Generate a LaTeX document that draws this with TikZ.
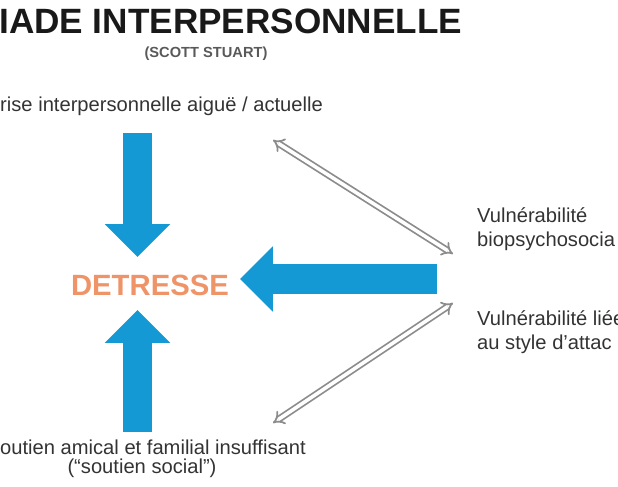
\documentclass[tikz,border=0pt]{standalone}
\usepackage{fontspec}
\setmainfont{Liberation Sans}
\usepackage{xcolor}
\usetikzlibrary{arrows.meta,positioning}

\definecolor{arrowblue}{HTML}{1499D4}
\definecolor{distressorange}{HTML}{EE9468}
\definecolor{linkgray}{HTML}{8C8C8C}
\definecolor{textgray}{HTML}{333333}

\begin{document}
\begin{tikzpicture}[x=0.03cm, y=-0.03cm,
    label/.style={text=textgray, font=\fontsize{17.2}{20.5}\selectfont, inner sep=0pt},
    bigarrow/.style={arrowblue, line width=25.5pt, -{Triangle[width=54pt, length=28pt]}},
    linkarrow/.style={draw=linkgray, double=white, double distance=3pt, line width=1.5pt, {Implies}-{Implies}}]

    \useasboundingbox (0,0) rectangle (618,487);

    \node[anchor=west, inner sep=0pt, font=\fontsize{30}{34}\selectfont\bfseries, text=black!90] (title) at (-1,21) {IADE INTERPERSONNELLE};
    \node[inner sep=0pt, font=\fontsize{12.5}{14}\selectfont\bfseries, text=black!65] (author) at (206,54) {(SCOTT STUART)};

    \node[label, anchor=west] (crise) at (0,106) {rise interpersonnelle aiguë / actuelle};
    \node[font=\fontsize{25}{28}\selectfont\bfseries, text=distressorange, inner sep=0pt] (detresse) at (150,285) {DETRESSE};
    \node[label, anchor=west, align=left] (biopsy) at (477,229) {Vulnérabilité\\biopsychosocia};
    \node[label, anchor=west, align=left] (attach) at (477,332) {Vulnérabilité liée\\au style d'attac};
    \node[label, anchor=west] (soutien) at (0,447) {outien amical et familial insuffisant};
    \node[label] (social) at (142,468) {(“soutien social”)};

    % points where the arrows meet
    \coordinate (dtop) at (137.5,257);
    \coordinate (dbot) at (137.5,310);
    \coordinate (dright) at (240,279);
    \coordinate (vuln) at (437,279);
    \coordinate (crisetip) at (273,140);
    \coordinate (biopsytip) at (453,254);
    \coordinate (attachtip) at (453,303);
    \coordinate (soutientip) at (273,423);

    \draw[bigarrow] (dtop |- 0,133) -- (dtop);
    \draw[bigarrow] (dbot |- 0,432) -- (dbot);
    \draw[bigarrow] (vuln) -- (dright);

    \draw[linkarrow] (crisetip) -- (biopsytip);
    \draw[linkarrow] (attachtip) -- (soutientip);

\end{tikzpicture}
\end{document}
